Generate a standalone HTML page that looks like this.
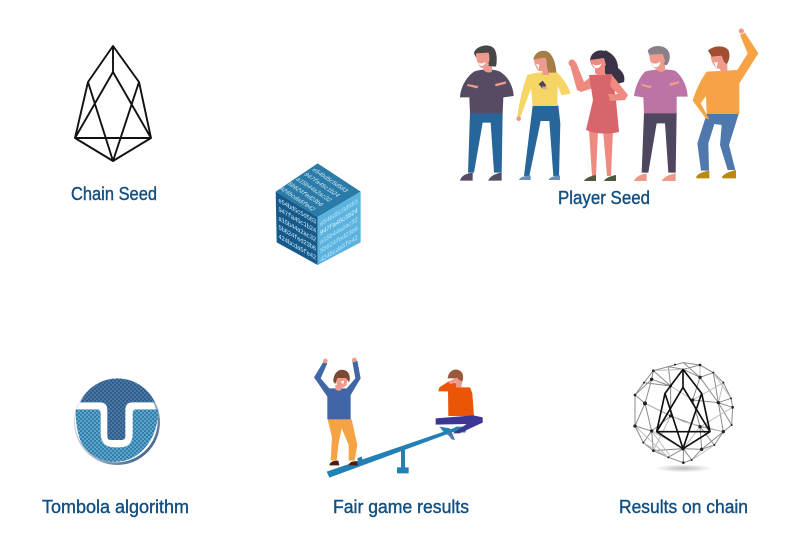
<!DOCTYPE html>
<html><head><meta charset="utf-8"><style>
html,body{margin:0;padding:0;background:#fff}
svg{display:block}
.l{font-family:"Liberation Sans",sans-serif;font-size:18.5px;fill:#124f80;stroke:#124f80;stroke-width:.4}
.c{font-family:"Liberation Mono",monospace;font-size:13px;fill:#cfe9f7}
</style></head><body>
<svg width="800" height="551" viewBox="0 0 800 551" xmlns="http://www.w3.org/2000/svg">
<defs>
<pattern id="pd" width="12" height="12" patternUnits="userSpaceOnUse"><rect width="12" height="12" fill="#4a76a0"/><rect width="6" height="6" fill="#2f5f8e"/><rect x="6" y="6" width="6" height="6" fill="#2f5f8e"/></pattern>
<pattern id="pl" width="12" height="12" patternUnits="userSpaceOnUse"><rect width="12" height="12" fill="#5fa3ca"/><rect width="6" height="6" fill="#2f80ab"/><rect x="6" y="6" width="6" height="6" fill="#2f80ab"/></pattern>
<radialGradient id="sh"><stop offset="0" stop-color="#bbb"/><stop offset="1" stop-color="#fff"/></radialGradient>
<linearGradient id="rim" x1="0" y1="0" x2="1" y2="1"><stop offset="0" stop-color="#e8e8ee"/><stop offset=".55" stop-color="#b5bccb"/><stop offset="1" stop-color="#123f6e"/></linearGradient>
</defs>
<rect width="800" height="551" fill="#fff"/>

<!-- Chain seed logo -->
<path d="M113 46L88 82L75 138L113 161L151 138L139 82ZM113 46V72L75 138H151L113 72M88 82L113 161L139 82" fill="none" stroke="#111" stroke-width="1.9" stroke-linejoin="round"/>
<text class="l" x="71" y="200" textLength="86" lengthAdjust="spacingAndGlyphs">Chain Seed</text>

<!-- People -->
<g transform="translate(450,20) scale(.33333)">
<!-- P1 -->
<path d="M54 458L60 278H158L155 458H132L122 308H98L72 458Z" fill="#27669b"/>
<path d="M30 482Q35 462 68 458V482ZM114 482Q125 462 155 458V482Z" fill="#574b63"/>
<path d="M72 155C95 146 130 146 150 155C175 170 190 200 191 228L160 232L158 280H60L58 232L30 232C32 200 50 170 72 155Z" fill="#574b63"/>
<path d="M52 192L85 198L82 205L52 198ZM135 192L168 184L168 191L137 199Z" fill="#ee9a8c"/>
<path d="M100 135H126V155Q112 162 100 150Z" fill="#ee9a8c"/>
<path d="M72 100C74 78 120 66 134 88C142 102 141 125 138 140L116 138L112 108L78 112Z" fill="#474747"/>
<path d="M78 100L116 98Q122 122 112 136Q100 148 90 141Q78 125 78 100Z" fill="#ee9a8c"/>
<path d="M82 127Q95 134 108 126Q102 140 90 137Z" fill="#fff"/>
<!-- P2 -->
<path d="M248 256H325L331 310L327 468H310L298 303H272L238 468H222Z" fill="#27669b"/>
<path d="M207 480Q210 468 242 466V480ZM296 480Q300 468 330 466V480Z" fill="#6b8fbd"/>
<path d="M232 165C260 156 295 155 322 158C340 175 355 200 362 220L335 226L323 198L322 258H248L243 205L212 290H202C208 245 218 200 232 165Z" fill="#f5d665"/>
<circle cx="206" cy="296" r="7" fill="#ee9a8c"/>
<path d="M266 192L278 182L289 197L277 206Z" fill="#4a4560"/>
<path d="M276 198L292 203L288 209L278 205Z" fill="#ee9a8c"/>
<path d="M275 140H297V165H278Z" fill="#ee9a8c"/>
<path d="M250 118C255 92 285 85 300 100C312 115 318 135 319 158H295L284 114L254 122Z" fill="#a67e45"/>
<path d="M252 118L286 112Q294 130 288 145Q278 158 265 152Q252 135 252 118Z" fill="#ee9a8c"/>
<path d="M258 132L268 134L266 148Z" fill="#fff"/>
<!-- P4 / P5 -->
<g transform="translate(480,0)">
<path d="M95 458L102 278H200L197 458H175L165 310H140L115 458Z" fill="#4f4660"/>
<path d="M72 483Q78 465 110 460V483ZM155 483Q165 465 197 460V483Z" fill="#ef9a87"/>
<path d="M105 155C130 147 170 146 195 152C218 170 232 200 233 230L200 230V280H102L100 232L72 228C76 200 88 172 105 155Z" fill="#bc74a6"/>
<path d="M95 192L125 198L122 205L95 198ZM178 190L208 183L206 191L180 198Z" fill="#ee9a8c"/>
<path d="M140 130H165V152Q152 160 140 150Z" fill="#ee9a8c"/>
<path d="M113 92C125 74 165 72 176 95C184 112 176 130 170 136L155 130L150 104L118 106Z" fill="#8a8088"/>
<path d="M118 104L158 102L165 122Q158 150 135 146Q118 130 118 104Z" fill="#ee9a8c"/>
<path d="M122 127Q138 136 152 124Q148 146 132 141Z" fill="#fff"/>
<path d="M290 282H386L357 375L376 450H353L330 375L335 315L313 312L295 370L297 452H273L262 370Z" fill="#4f78ad"/>
<path d="M258 473Q262 458 298 452V475H262ZM335 473Q342 458 378 450V475H340Z" fill="#b88a12"/>
<path d="M290 155L382 150L413 100L390 45L405 38L445 100L388 190V282H290L288 228L272 250L298 298L288 296L248 242C258 210 272 180 290 155Z" fill="#f5a345"/>
<circle cx="394" cy="33" r="8" fill="#ee9a8c"/>
<path d="M330 130H352V155Q340 160 330 150Z" fill="#ee9a8c"/>
<path d="M302 110L348 100L354 125Q345 150 322 146Q306 135 302 110Z" fill="#ee9a8c"/>
<path d="M294 92C310 76 345 74 356 92C362 110 356 125 350 132L342 125L335 107L305 110Z" fill="#a24e30"/>
<path d="M312 128L324 126L320 144Z" fill="#fff"/>
</g>
</g>
<!-- P3 -->
<path d="M589 130H598L596 176H592ZM603 130H613L611 176H607Z" fill="#ee8a7f"/>
<path d="M584 181Q586 177 596 175V181ZM604 181Q606 177 616 175V181Z" fill="#4e5a3f"/>
<path d="M570 65L576 62L584 82L592 76L593 88L581 92L577 90Z" fill="#ee8a7f"/>
<circle cx="572" cy="63" r="3.5" fill="#ee8a7f"/>
<path d="M605 50Q618 56 618 68Q626 74 624 82L614 85L604 72Z" fill="#3b3247"/>
<path d="M589 75L612 74L616 100L619 132Q600 136 586 130L593 100Z" fill="#d9656c"/>
<path d="M612 75L628 95L625 100L610 101L608 94L618 94L610 86Z" fill="#ee8a7f"/>
<path d="M595 66H605V74Q600 77 595 73Z" fill="#ee8a7f"/>
<path d="M590 60C591 49 606 47 610 56C612 60 611 64 610 66L603 59Z" fill="#3b3247"/>
<path d="M590 60L604 58L606 65Q600 71 594 68Q590 64 590 60Z" fill="#ee8a7f"/>
<path d="M592 64Q598 67 602 63Q600 69 595 68Z" fill="#fff"/>
<text class="l" x="558" y="204" textLength="92" lengthAdjust="spacingAndGlyphs">Player Seed</text>

<!-- Cube -->
<g transform="translate(265,155) scale(.33333)">
<path d="M158 25L287 110L158 186L32 110Z" fill="#2b7ba8"/>
<path d="M32 110L158 186L158 330L35 262Z" fill="#155a8a"/>
<path d="M158 186L287 110V262L158 330Z" fill="#5bb4e0"/>
<g class="c" transform="matrix(.75 .5 -.88 .5 152 38)">
<text x="0" y="14" style="font-size:20px" textLength="135">e54bd5c5d583</text>
<text x="0" y="42" style="font-size:20px" textLength="135">947fa45c1b24</text>
<text x="0" y="70" style="font-size:20px" textLength="135">a15b44a2ac32</text>
<text x="0" y="98" style="font-size:20px" textLength="135">5b624fed23b6</text>
<text x="0" y="126" style="font-size:20px" textLength="135">424bcda5fe42</text>
</g>
<g class="c" transform="matrix(.86 .5 0 1 40 125)">
<text x="0" y="16" style="font-size:20px" textLength="132">e54bd5c5d583</text>
<text x="0" y="43" style="font-size:20px" textLength="132">947fa45c1b24</text>
<text x="0" y="70" style="font-size:20px" textLength="132">a15b44a2ac32</text>
<text x="0" y="97" style="font-size:20px" textLength="132">5b624fed23b6</text>
<text x="0" y="124" style="font-size:20px" textLength="132">424bcda5fe42</text>
</g>
<g class="c" transform="matrix(.86 -.53 0 1 165 198)">
<text x="0" y="16" style="font-size:20px;fill:#bfe4f6" textLength="132">e54bd5c5d583</text>
<text x="0" y="43" style="font-size:20px;fill:#e6f5fc" textLength="132">947fa45c1b24</text>
<text x="0" y="70" style="font-size:20px;fill:#bfe4f6" textLength="132">a15b44a2ac32</text>
<text x="0" y="97" style="font-size:20px;fill:#bfe4f6" textLength="132">5b624fed23b6</text>
<text x="0" y="124" style="font-size:20px;fill:#bfe4f6" textLength="132">424bcda5fe42</text>
</g>
</g>

<!-- Tombola -->
<g transform="translate(60,370) scale(.33333)">
<circle cx="171" cy="156" r="129" fill="url(#rim)"/>
<circle cx="169" cy="153" r="124" fill="#fff"/>
<path d="M60 97A124 124 0 0 1 285 97H218Q196 97 196 120V200Q196 210 185 210H152Q142 210 142 200V120Q142 97 120 97Z" fill="url(#pd)"/>
<path d="M47 118H112Q122 118 122 130V190Q122 232 165 232H180Q218 232 218 190V130Q218 118 228 118H293C298 170 270 250 195 272C140 285 90 262 65 220C52 195 46 150 47 118Z" fill="url(#pl)"/>
</g>
<text class="l" x="42" y="513" textLength="147" lengthAdjust="spacingAndGlyphs">Tombola algorithm</text>

<!-- Seesaw -->
<g transform="translate(300,350) scale(.33333)">
<path d="M80 365L460 235L464 244L88 383Z" fill="#2380b4"/>
<path d="M172 325L185 319L190 340L176 345Z" fill="#2380b4"/>
<path d="M303 295L315 291V352H326V370H291V352H303Z" fill="#2380b4"/>
<!-- left person -->
<path d="M83 208H155L172 285L164 332H146V285L125 235L115 285L110 332H92L96 262Z" fill="#f5a345"/>
<path d="M88 346Q90 332 115 332L118 346ZM146 346Q148 332 172 334L174 346Z" fill="#4a1f16"/>
<path d="M70 36L82 40L62 85L88 115H140L166 85L157 34L172 32L182 85L152 135V208H82V140L42 82Z" fill="#4166a8"/>
<circle cx="76" cy="33" r="7" fill="#ee9a8c"/><circle cx="163" cy="30" r="7" fill="#ee9a8c"/>
<path d="M106 105H124V120Q115 125 106 118Z" fill="#ee9a8c"/>
<path d="M106 82H142L140 105Q128 118 112 112Z" fill="#ee9a8c"/>
<path d="M100 95C100 65 120 56 132 60C150 64 152 85 147 97L138 84L112 84L106 102Z" fill="#7a4a35"/>
<path d="M122 95L132 92L130 104Z" fill="#fff"/>
<!-- right person -->
<path d="M418 230L450 235L465 270L450 260L430 245ZM470 230H505L495 248L440 245Z" fill="#2380b4"/>
<path d="M445 240L465 270L455 268L440 248Z" fill="#4f78ad"/>
<path d="M444 124L415 124L418 112L445 95L470 100L470 112L510 112L517 130L522 198H445Z" fill="#ea5508"/>
<path d="M468 85L488 88L484 112H468Z" fill="#ee9a8c"/>
<path d="M443 85C445 62 465 55 475 60C490 65 492 80 487 95L470 85Z" fill="#9a5a3a"/>
<path d="M445 95L472 82L476 95L450 103Z" fill="#ee9a8c"/>
<path d="M407 205L520 196L548 202L548 218L478 250L458 250L500 222L407 224Z" fill="#3c3794"/>
</g>
<text class="l" x="333" y="513" textLength="136" lengthAdjust="spacingAndGlyphs">Fair game results</text>

<!-- Results on chain globe -->
<g transform="translate(620,350) scale(.33333)">
<ellipse cx="190" cy="355" rx="85" ry="12" fill="url(#sh)"/>
<g fill="none" stroke="#8a8a8a" stroke-width="3">
<path d="M190 38L240 45L280 68L310 98L333 145L338 172L335 225L310 245L283 285L245 298L215 330L190 338L145 322L100 302L70 278L45 228L45 135L72 98L100 62L145 50Z"/>
<path d="M100 62L95 88L75 160L45 135M95 88L152 108L190 58L240 82L295 158L338 172M240 82L218 150L295 158L310 245L240 230L283 285M75 160L95 243L45 228M75 160L152 198L240 230L245 298M95 243L100 302L190 296L245 298M152 198L95 243M152 198L152 108M218 150L240 230M295 158L280 68M145 50L152 108M72 98L152 108M295 158L333 145M45 135L95 88M70 278L95 243M145 322L190 296L215 330M190 338L190 296M310 245L245 298M335 225L295 158M280 68L240 82M190 38L240 82M145 50L190 58M190 58L240 45M100 62L152 108M45 228L75 160"/>
</g>
<g fill="none" stroke="#bdbdbd" stroke-width="3">
<path d="M75 160L190 215L310 245M95 243L152 320M240 45L240 82M100 62L190 58M310 98L295 158M45 228L145 322M310 98L218 150M152 108L218 150M95 243L190 296M240 230L190 296M338 172L240 230M333 145L280 68M70 278L145 322M100 302L152 198M283 285L215 330"/>
</g>
<g fill="#222">
<circle cx="95" cy="88" r="5"/><circle cx="75" cy="160" r="6"/><circle cx="45" cy="228" r="5"/><circle cx="95" cy="243" r="5"/><circle cx="152" cy="198" r="5"/><circle cx="240" cy="230" r="5"/><circle cx="295" cy="158" r="5"/><circle cx="218" cy="150" r="5"/><circle cx="240" cy="82" r="5"/><circle cx="152" cy="108" r="4"/><circle cx="310" cy="245" r="5"/><circle cx="245" cy="298" r="5"/><circle cx="100" cy="302" r="4"/><circle cx="45" cy="135" r="4"/><circle cx="338" cy="172" r="4"/><circle cx="190" cy="338" r="4"/><circle cx="100" cy="62" r="4"/><circle cx="240" cy="45" r="4"/><circle cx="145" cy="322" r="3"/><circle cx="283" cy="285" r="3"/><circle cx="310" cy="98" r="3"/><circle cx="165" cy="44" r="3"/><circle cx="280" cy="68" r="3"/><circle cx="70" cy="278" r="3"/><circle cx="335" cy="225" r="3"/><circle cx="215" cy="330" r="3"/><circle cx="72" cy="98" r="3"/><circle cx="333" cy="145" r="3"/>
</g>
<path d="M189 58L135 130L110 245L189 296L270 245L245 130ZM189 58V112L110 245H270L189 112M135 130L189 296L245 130" fill="none" stroke="#111" stroke-width="5" stroke-linejoin="round"/>
<circle cx="189" cy="296" r="5" fill="#111"/>
</g>
<text class="l" x="619" y="513" textLength="129" lengthAdjust="spacingAndGlyphs">Results on chain</text>
</svg>
</body></html>
